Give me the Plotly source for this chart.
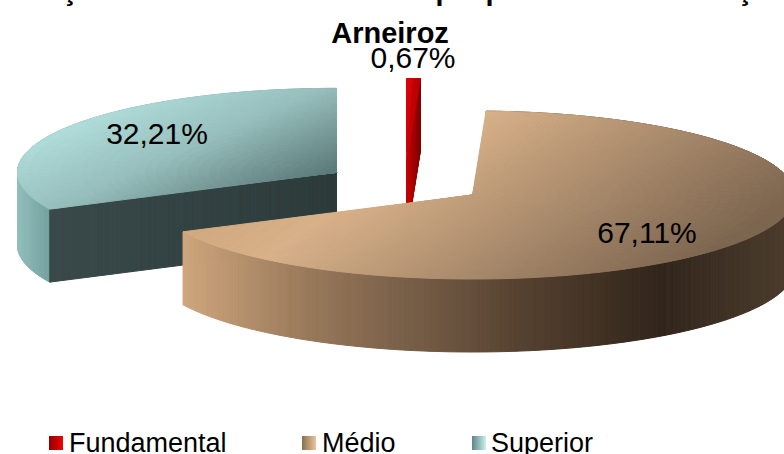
import math
import plotly.graph_objects as go

# ---- data ----
categories = ["Fundamental", "Médio", "Superior"]
values = [0.67, 67.11, 32.21]
title_first_line = "Distribuição dos docentes da rede que por nível de formação em"
title_second_line = "Arneiroz"

# ---- pie geometry, in axis units of a 784x454 frame ----
CX, CY, EXPLODE_RX, RY, DEPTH, EXPLODE = 405, 183.5, 323, 84, 73, 0.25
slice_rx = {"Fundamental": 323, "Médio": 322, "Superior": 319}
label_pos = {"Fundamental": (413, 60), "Médio": (647, 235), "Superior": (157, 136)}
key_pos = {"Fundamental": (56, 443), "Médio": (309, 443), "Superior": (479, 443)}
key_text_x = {"Fundamental": 69, "Médio": 322, "Superior": 491}
key_cols = {"Fundamental": ("#f40000", "#900000"), "Médio": ("#eac69c", "#8a6e52"), "Superior": ("#c8f0ee", "#5f8585")}


def lerp(stops, u):
    if u <= stops[0][0]:
        return stops[0][1]
    for (u0, c0), (u1, c1) in zip(stops, stops[1:]):
        if u <= u1:
            f = (u - u0) / (u1 - u0)
            return tuple(c0[i] + (c1[i] - c0[i]) * f for i in range(3))
    return stops[-1][1]


STYLE = {
    "Médio": {
        "top": (lambda x, y: .55 * (x - 487) + .83 * (y - 111),
                [(-80, (208, 168, 128)), (0, (216, 177, 137)), (240, (125, 102, 80))]),
        "wall": (lambda x, y: x,
                 [(183, (207, 166, 125)), (288, (160, 127, 95)), (405, (120, 95, 72)),
                  (523, (85, 65, 48)), (660, (50, 38, 28)), (782, (75, 60, 45))]),
        "face": None,
    },
    "Superior": {
        "top": (lambda x, y: .4 * x + .9 * y,
                [(130, (180, 225, 222)), (210, (150, 190, 188)), (290, (90, 120, 120))]),
        "wall": (lambda x, y: x, [(13, (150, 195, 192)), (48, (118, 162, 160))]),
        "face": (lambda x, y: x, [(48, (58, 74, 74)), (336, (44, 58, 58))]),
    },
    "Fundamental": {
        "top": (lambda x, y: x - 407 + .08 * (y - 78), [(0, (235, 0, 10)), (14, (165, 0, 0))]),
        "wall": (lambda x, y: x, [(407, (200, 0, 0)), (420, (130, 0, 0))]),
        "face": (lambda x, y: x, [(407, (200, 0, 0)), (420, (130, 0, 0))]),
    },
}

fig = go.Figure()


def add_cells(cells, shade, name):
    """cells: polygons; each is coloured from its centre and merged into colour bands."""
    fn, stops = shade
    bands = {}
    for poly in cells:
        mx = sum(p[0] for p in poly) / len(poly)
        my = sum(p[1] for p in poly) / len(poly)
        col = tuple(round(v) for v in lerp(stops, fn(mx, my)))
        bands.setdefault(col, []).append(poly)
    for col, polys in bands.items():
        xs, ys = [], []
        for poly in polys:
            xs += [round(p[0], 2) for p in poly] + [round(poly[0][0], 2), None]
            ys += [round(p[1], 2) for p in poly] + [round(poly[0][1], 2), None]
        c = f"rgb({col[0]},{col[1]},{col[2]})"
        fig.add_trace(go.Scatter(x=xs, y=ys, mode="lines", fill="toself", fillcolor=c,
                                 line=dict(color=c, width=1), hoverinfo="skip",
                                 showlegend=False, name=name))


total = sum(values)
spans = {}
cum = 0.0
for cat, v in zip(categories, values):
    spans[cat] = (cum, cum + v / total * 360)
    cum += v / total * 360


def slice_cells(cat):
    t0, t1 = spans[cat]
    mid = math.radians((t0 + t1) / 2)
    ax = CX + EXPLODE * EXPLODE_RX * math.sin(mid)
    ay = CY - EXPLODE * RY * math.cos(mid)
    rx = slice_rx[cat]

    def P(t, r=1.0):
        a = math.radians(t)
        return (ax + r * rx * math.sin(a), ay - r * RY * math.cos(a))

    # outer wall
    nw = max(2, int((t1 - t0) / 0.4))
    tw = [t0 + (t1 - t0) * i / nw for i in range(nw + 1)]
    wall = []
    for a, b in zip(tw, tw[1:]):
        p, q = P(a), P(b)
        wall.append([p, q, (q[0], q[1] + DEPTH), (p[0], p[1] + DEPTH)])
    add_cells(wall, STYLE[cat]["wall"], cat)
    # cut face seen from the front
    if STYLE[cat]["face"]:
        tf = t0 if cat != "Fundamental" else t1
        e = P(tf)
        steps = 60
        face = []
        for i in range(steps):
            f0, f1 = i / steps, (i + 1) / steps
            a0 = (ax + (e[0] - ax) * f0, ay + (e[1] - ay) * f0)
            a1 = (ax + (e[0] - ax) * f1, ay + (e[1] - ay) * f1)
            face.append([a0, a1, (a1[0], a1[1] + DEPTH), (a0[0], a0[1] + DEPTH)])
        add_cells(face, STYLE[cat]["face"], cat)
    # top surface
    n = max(2, int((t1 - t0) / 1.0))
    ts = [t0 + (t1 - t0) * i / n for i in range(n + 1)]
    top = []
    rsteps = 30
    for a, b in zip(ts, ts[1:]):
        for i in range(rsteps):
            r0, r1 = i / rsteps, (i + 1) / rsteps
            top.append([P(a, r0), P(b, r0), P(b, r1), P(a, r1)])
    add_cells(top, STYLE[cat]["top"], cat)


for cat in ["Superior", "Fundamental", "Médio"]:
    slice_cells(cat)

# value labels
for cat, v in zip(categories, values):
    x, y = label_pos[cat]
    fig.add_trace(go.Scatter(x=[x], y=[y], mode="text", text=[f"{v:.2f}".replace(".", ",") + "%"],
                             textposition="middle center", hoverinfo="skip", showlegend=False,
                             textfont=dict(family="Liberation Sans", size=30, color="black")))

# legend keys and names
for cat in categories:
    x, y = key_pos[cat]
    fig.add_trace(go.Scatter(x=[x], y=[y], mode="markers", hoverinfo="skip", showlegend=False, name=cat,
                             marker=dict(symbol="square", size=14, color=key_cols[cat][1],
                                         gradient=dict(type="horizontal", color=key_cols[cat][0]))))
    fig.add_trace(go.Scatter(x=[key_text_x[cat]], y=[y + 2], mode="text", text=[cat], textposition="middle right",
                             hoverinfo="skip", showlegend=False,
                             textfont=dict(family="Liberation Sans", size=27, color="black")))

fig.update_layout(
    width=784, height=454, margin=dict(l=0, r=0, t=0, b=0),
    paper_bgcolor="white", plot_bgcolor="white", showlegend=False,
    title=dict(text="<b>" + title_second_line + "</b>", x=0.4975, xanchor="center",
               y=0.905, yanchor="bottom", font=dict(family="Liberation Sans", size=29, color="black")),
    annotations=[dict(text="<b>" + title_first_line + "</b>", xref="paper", yref="paper",
                      x=0.4975, xanchor="center", y=0.983, yanchor="bottom", showarrow=False,
                      font=dict(family="Liberation Sans", size=29, color="black"))],
    xaxis=dict(range=[0, 784], visible=False, fixedrange=True),
    yaxis=dict(range=[454, 0], visible=False, fixedrange=True),
)
fig.write_html("out.html", config={"displayModeBar": False},
               post_script="document.body.style.margin='0';document.body.style.overflow='hidden';")
